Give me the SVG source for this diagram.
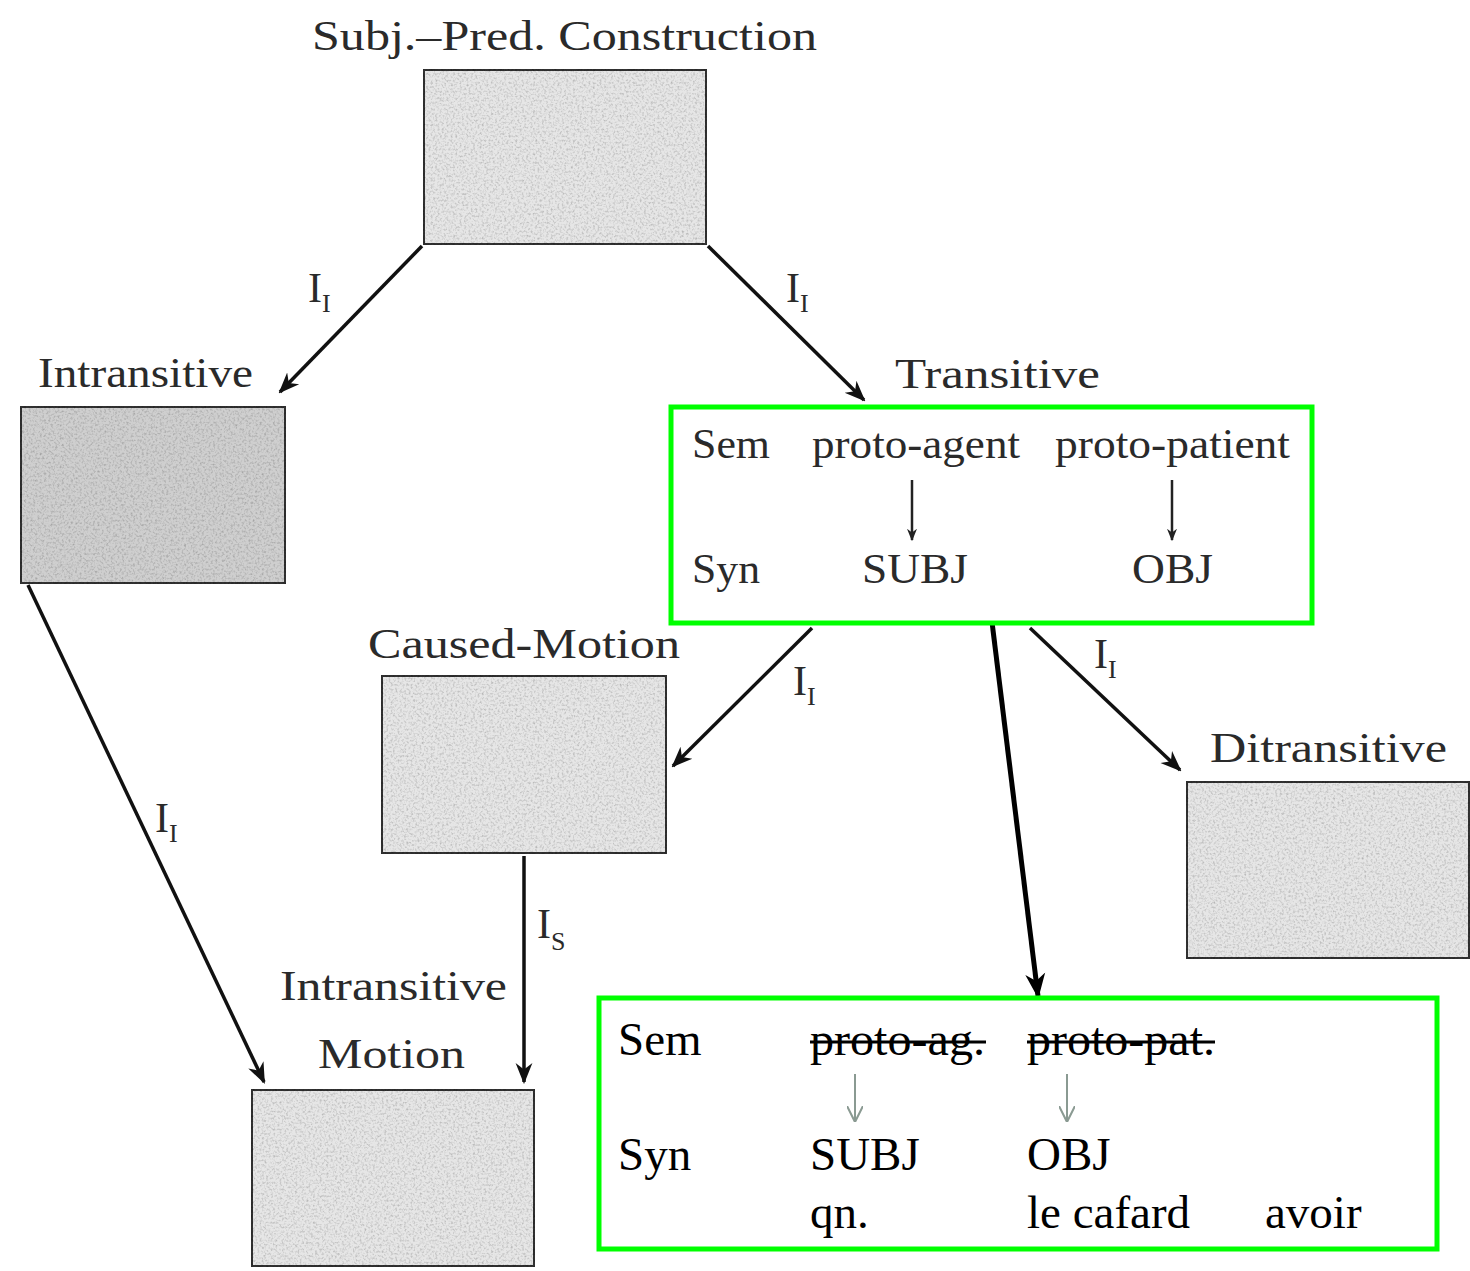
<svg xmlns="http://www.w3.org/2000/svg" width="1470" height="1271" viewBox="0 0 1470 1271">
<defs>
<style>
.lbl{font-family:"Liberation Serif","Times New Roman",serif;font-size:42px;fill:#2a2a2a}
.in{font-family:"Liberation Serif","Times New Roman",serif;font-size:42px;fill:#2a2a2a}
.bt{font-family:"Liberation Serif","Times New Roman",serif;font-size:47px;fill:#000}
.sub{font-size:26px}
.box{fill:#e6e6e6;stroke:#333;stroke-width:4}
.dark{fill:#cfcfcf}
.grn{fill:#fff;stroke:#00ff00;stroke-width:5}
.con{stroke:#111;stroke-width:3.5;fill:none;marker-end:url(#ah)}
.thk{stroke:#000;stroke-width:5;fill:none;marker-end:url(#ahb)}
.sm{stroke:#222;stroke-width:2.5;fill:none;marker-end:url(#ahs)}
.gr{stroke:#8a9a92;stroke-width:2;fill:none}
.strike{stroke:#000;stroke-width:3}
</style>
<filter id="noise" x="0" y="0" width="100%" height="100%">
<feTurbulence type="fractalNoise" baseFrequency="0.45" numOctaves="2" seed="3" result="n"/>
<feColorMatrix in="n" type="matrix" values="0 0 0 0 0  0 0 0 0 0  0 0 0 0 0  0 0 0 -0.9 0.5" result="a"/>
<feComposite in="a" in2="SourceGraphic" operator="in" result="m"/>
<feMerge><feMergeNode in="SourceGraphic"/><feMergeNode in="m"/></feMerge>
</filter>
<marker id="ah" viewBox="0 0 10 10" refX="9" refY="5" markerWidth="6" markerHeight="6" orient="auto" markerUnits="strokeWidth">
<path d="M0,1 L10,5 L0,9 L3,5 z" fill="#111"/>
</marker>
<marker id="ahb" viewBox="0 0 10 10" refX="9" refY="5" markerWidth="5" markerHeight="5" orient="auto" markerUnits="strokeWidth">
<path d="M0,1 L10,5 L0,9 L3,5 z" fill="#000"/>
</marker>
<marker id="ahs" viewBox="0 0 10 10" refX="9" refY="5" markerWidth="5" markerHeight="5" orient="auto" markerUnits="strokeWidth">
<path d="M0,1 L10,5 L0,9 L3,5 z" fill="#222"/>
</marker>
<marker id="ahg" viewBox="0 0 10 10" refX="10" refY="5" markerWidth="8" markerHeight="8" orient="auto" markerUnits="strokeWidth">
<path d="M0,0 L10,5 L0,10" fill="none" stroke="#8a9a92" stroke-width="1.3"/>
</marker>
</defs>
<rect width="1470" height="1271" fill="#fff"/>

<g id="connectors">
<line class="con" x1="422" y1="246" x2="280" y2="392"/>
<line class="con" x1="708" y1="246" x2="864" y2="400"/>
<line class="con" x1="28" y1="585" x2="264" y2="1082"/>
<line class="con" x1="812" y1="628" x2="673" y2="766"/>
<line class="con" x1="1030" y1="628" x2="1180" y2="770"/>
<line class="con" x1="524" y1="856" x2="524" y2="1082"/>
<line class="thk" x1="992" y1="622" x2="1038" y2="996"/>
<g class="lbl">
<text x="308" y="302">I<tspan class="sub" dy="10">I</tspan></text>
<text x="786" y="302">I<tspan class="sub" dy="10">I</tspan></text>
<text x="155" y="832">I<tspan class="sub" dy="10">I</tspan></text>
<text x="793" y="695">I<tspan class="sub" dy="10">I</tspan></text>
<text x="1094" y="668">I<tspan class="sub" dy="10">I</tspan></text>
<text x="537" y="938">I<tspan class="sub" dy="12">S</tspan></text>
</g>
</g>

<g id="subj-pred">
<text class="lbl" x="312" y="50" textLength="505" lengthAdjust="spacingAndGlyphs">Subj.–Pred. Construction</text>
<rect class="box" x="423" y="69" width="284" height="176" filter="url(#noise)"/>
</g>

<g id="intransitive">
<text class="lbl" x="38" y="387" textLength="215" lengthAdjust="spacingAndGlyphs">Intransitive</text>
<rect class="box dark" x="20" y="406" width="266" height="178" filter="url(#noise)"/>
</g>

<g id="transitive">
<text class="lbl" x="895" y="388" textLength="205" lengthAdjust="spacingAndGlyphs">Transitive</text>
<rect class="grn" x="671" y="407" width="641" height="216"/>
<text class="in" x="692" y="458" textLength="78" lengthAdjust="spacingAndGlyphs">Sem</text>
<text class="in" x="812" y="458" textLength="208" lengthAdjust="spacingAndGlyphs">proto-agent</text>
<text class="in" x="1055" y="458" textLength="235" lengthAdjust="spacingAndGlyphs">proto-patient</text>
<line class="sm" x1="912" y1="480" x2="912" y2="540"/>
<line class="sm" x1="1172" y1="480" x2="1172" y2="540"/>
<text class="in" x="692" y="583" textLength="68" lengthAdjust="spacingAndGlyphs">Syn</text>
<text class="in" x="862" y="583" textLength="106" lengthAdjust="spacingAndGlyphs">SUBJ</text>
<text class="in" x="1132" y="583" textLength="81" lengthAdjust="spacingAndGlyphs">OBJ</text>
</g>

<g id="caused-motion">
<text class="lbl" x="368" y="658" textLength="312" lengthAdjust="spacingAndGlyphs">Caused-Motion</text>
<rect class="box" x="381" y="675" width="286" height="179" filter="url(#noise)"/>
</g>

<g id="ditransitive">
<text class="lbl" x="1210" y="762" textLength="237" lengthAdjust="spacingAndGlyphs">Ditransitive</text>
<rect class="box" x="1186" y="781" width="284" height="178" filter="url(#noise)"/>
</g>

<g id="intransitive-motion">
<text class="lbl" x="280" y="1000" textLength="227" lengthAdjust="spacingAndGlyphs">Intransitive</text>
<text class="lbl" x="318" y="1068" textLength="147" lengthAdjust="spacingAndGlyphs">Motion</text>
<rect class="box" x="251" y="1089" width="284" height="178" filter="url(#noise)"/>
</g>

<g id="idiom">
<rect class="grn" x="599" y="998" width="838" height="251"/>
<text class="bt" x="618" y="1055">Sem</text>
<text class="bt" x="810" y="1055" textLength="175" lengthAdjust="spacingAndGlyphs">proto-ag.</text>
<line class="strike" x1="810" y1="1042" x2="986" y2="1042"/>
<text class="bt" x="1027" y="1055" textLength="188" lengthAdjust="spacingAndGlyphs">proto-pat.</text>
<line class="strike" x1="1027" y1="1042" x2="1215" y2="1042"/>
<line class="gr" x1="855" y1="1074" x2="855" y2="1122" marker-end="url(#ahg)"/>
<line class="gr" x1="1067" y1="1074" x2="1067" y2="1122" marker-end="url(#ahg)"/>
<text class="bt" x="618" y="1170">Syn</text>
<text class="bt" x="810" y="1170">SUBJ</text>
<text class="bt" x="1027" y="1170">OBJ</text>
<text class="bt" x="810" y="1228">qn.</text>
<text class="bt" x="1027" y="1228">le cafard</text>
<text class="bt" x="1265" y="1228">avoir</text>
</g>
</svg>
